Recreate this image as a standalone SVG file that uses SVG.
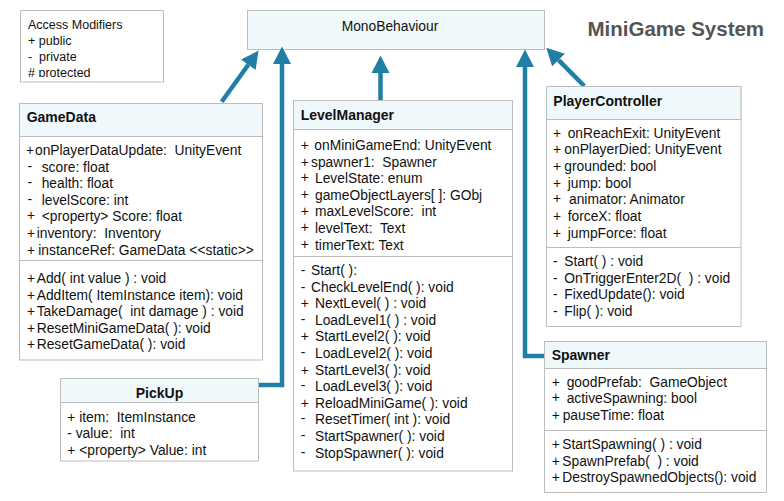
<svg xmlns="http://www.w3.org/2000/svg" width="784" height="501" viewBox="0 0 784 501">
<style>
text{font-family:"Liberation Sans",Arial,Helvetica,sans-serif;font-size:13.8px;fill:#111;white-space:pre}
.hd{font-weight:bold;font-size:14px}
.lg{font-size:12.5px}
.title{font-weight:bold;font-size:20.5px;fill:#555}
.box{fill:#fff;stroke:#bdbdbd;stroke-width:1}
.head{fill:#eff8fa;stroke:#bdbdbd;stroke-width:1}
.div{stroke:#bdbdbd;stroke-width:1;fill:none}
.con{stroke:#217ea5;stroke-width:4.5;fill:none;marker-end:url(#tri)}
</style>
<defs>
<marker id="tri" markerUnits="userSpaceOnUse" markerWidth="18" markerHeight="20" refX="0" refY="9" orient="auto" viewBox="0 0 18 18">
<path d="M0,0 L17.5,9 L0,18 z" fill="#217ea5"/>
</marker>
<clipPath id="lgclip"><rect x="20" y="10" width="144" height="67"/></clipPath>
</defs>
<rect width="784" height="501" fill="#fff"/>

<g id="legend">
<rect class="box" x="20.5" y="10.5" width="143" height="71.5"/>
<g clip-path="url(#lgclip)">
<text class="lg" x="28" y="29">Access Modifiers</text>
<text class="lg" x="28" y="45">+ public</text>
<text class="lg" x="28" y="61">-  private</text>
<text class="lg" x="28" y="76.5"># protected</text>
</g>
</g>

<text class="title" x="587.5" y="35.5">MiniGame System</text>

<g id="MonoBehaviour">
<rect class="head" x="247.5" y="10.5" width="297" height="39"/>
<text x="390" y="30.5" text-anchor="middle">MonoBehaviour</text>
</g>

<g id="connectors">
<path class="con" d="M221.7,101.7 L248.3,64.8"/>
<path class="con" d="M258.5,385 L282,385 L282,64"/>
<path class="con" d="M380.5,101 L380.5,73"/>
<path class="con" d="M544,356 L525,356 L525,67"/>
<path class="con" d="M584.3,86 L558.6,60.1"/>
</g>

<g id="GameData">
<rect class="box" x="19.5" y="103.5" width="243" height="256.5"/>
<rect class="head" x="19.5" y="103.5" width="243" height="33"/>
<text class="hd" x="26.7" y="122.3">GameData</text>
<line class="div" x1="19.5" y1="260.5" x2="262.5" y2="260.5"/>
<text y="155"><tspan x="26">+</tspan><tspan x="35">onPlayerDataUpdate:  UnityEvent</tspan></text>
<text y="171.6"><tspan x="27.5" dy="-1">-</tspan><tspan x="41.7" dy="1">score: float</tspan></text>
<text y="188.2"><tspan x="27.5" dy="-1">-</tspan><tspan x="41.7" dy="1">health: float</tspan></text>
<text y="204.8"><tspan x="27.5" dy="-1">-</tspan><tspan x="41.7" dy="1">levelScore: int</tspan></text>
<text y="221.4"><tspan x="27" dy="-1">+</tspan><tspan x="41.7" dy="1">&lt;property&gt; Score: float</tspan></text>
<text y="238"><tspan x="27">+</tspan><tspan x="36.7">inventory:  Inventory</tspan></text>
<text y="254.6"><tspan x="27">+</tspan><tspan x="38.3">instanceRef: GameData &lt;&lt;static&gt;&gt;</tspan></text>
<text y="283"><tspan x="27">+</tspan><tspan x="36.7">Add( int value ) : void</tspan></text>
<text y="299.6"><tspan x="27">+</tspan><tspan x="36.7">AddItem( ItemInstance item): void</tspan></text>
<text y="316.2"><tspan x="27">+</tspan><tspan x="36.7">TakeDamage(  int damage ) : void</tspan></text>
<text y="332.8"><tspan x="27">+</tspan><tspan x="36.7">ResetMiniGameData( ): void</tspan></text>
<text y="349.4"><tspan x="27">+</tspan><tspan x="36.7">ResetGameData( ): void</tspan></text>
</g>

<g id="LevelManager">
<rect class="box" x="293.5" y="100.5" width="219" height="370.5"/>
<rect class="head" x="293.5" y="100.5" width="219" height="29"/>
<text class="hd" x="300.7" y="120">LevelManager</text>
<line class="div" x1="293.5" y1="256.5" x2="512.5" y2="256.5"/>
<text y="150"><tspan x="300.7">+</tspan><tspan x="314.3">onMiniGameEnd: UnityEvent</tspan></text>
<text y="166.6"><tspan x="300.7">+</tspan><tspan x="311">spawner1:  Spawner</tspan></text>
<text y="183.2"><tspan x="300.7" dy="-1">+</tspan><tspan x="315" dy="1">LevelState: enum</tspan></text>
<text y="199.8"><tspan x="300.7" dy="-1">+</tspan><tspan x="315" dy="1">gameObjectLayers[ ]: GObj</tspan></text>
<text y="216.4"><tspan x="300.7">+</tspan><tspan x="315">maxLevelScore:  int</tspan></text>
<text y="233"><tspan x="300.7" dy="-1">+</tspan><tspan x="315" dy="1">levelText:  Text</tspan></text>
<text y="249.6"><tspan x="300.7" dy="-1">+</tspan><tspan x="315" dy="1">timerText: Text</tspan></text>
<text y="275"><tspan x="300.7">-</tspan><tspan x="311">Start( ):</tspan></text>
<text y="291.6"><tspan x="300.7">-</tspan><tspan x="311">CheckLevelEnd( ): void</tspan></text>
<text y="308.2"><tspan x="300.7">+</tspan><tspan x="315">NextLevel( ) : void</tspan></text>
<text y="324.8"><tspan x="300.7" dy="-1">-</tspan><tspan x="315" dy="1">LoadLevel1( ) : void</tspan></text>
<text y="341.4"><tspan x="300.7">+</tspan><tspan x="315">StartLevel2( ): void</tspan></text>
<text y="358"><tspan x="300.7" dy="-1">-</tspan><tspan x="315" dy="1">LoadLevel2( ): void</tspan></text>
<text y="374.6"><tspan x="300.7">+</tspan><tspan x="315">StartLevel3( ): void</tspan></text>
<text y="391.2"><tspan x="300.7" dy="-1">-</tspan><tspan x="315" dy="1">LoadLevel3( ): void</tspan></text>
<text y="407.8"><tspan x="300.7">+</tspan><tspan x="315">ReloadMiniGame( ): void</tspan></text>
<text y="424.4"><tspan x="300.7" dy="-1">-</tspan><tspan x="315" dy="1">ResetTimer( int ): void</tspan></text>
<text y="441"><tspan x="300.7" dy="-1">-</tspan><tspan x="315" dy="1">StartSpawner( ): void</tspan></text>
<text y="457.6"><tspan x="300.7" dy="-1">-</tspan><tspan x="315" dy="1">StopSpawner( ): void</tspan></text>
</g>

<g id="PlayerController">
<rect class="box" x="546.5" y="86.5" width="194.5" height="240"/>
<rect class="head" x="546.5" y="86.5" width="194.5" height="33"/>
<text class="hd" x="553.3" y="105.7">PlayerController</text>
<line class="div" x1="546.5" y1="247.5" x2="741" y2="247.5"/>
<text y="137.7"><tspan x="553">+</tspan><tspan x="567.7">onReachExit: UnityEvent</tspan></text>
<text y="154.4"><tspan x="553">+</tspan><tspan x="564.3">onPlayerDied: UnityEvent</tspan></text>
<text y="171"><tspan x="553">+</tspan><tspan x="564.3">grounded: bool</tspan></text>
<text y="187.7"><tspan x="553">+</tspan><tspan x="567.7">jump: bool</tspan></text>
<text y="204.4"><tspan x="553" dy="-1">+</tspan><tspan x="569" dy="1">animator: Animator</tspan></text>
<text y="221"><tspan x="553">+</tspan><tspan x="567.7">forceX: float</tspan></text>
<text y="237.7"><tspan x="553">+</tspan><tspan x="567.7">jumpForce: float</tspan></text>
<text y="266"><tspan x="553">-</tspan><tspan x="564.3">Start( ) : void</tspan></text>
<text y="282.7"><tspan x="553">-</tspan><tspan x="564.3">OnTriggerEnter2D(  ) : void</tspan></text>
<text y="299.3"><tspan x="553">-</tspan><tspan x="564.3">FixedUpdate(): void</tspan></text>
<text y="316"><tspan x="553">-</tspan><tspan x="564.3">Flip( ): void</tspan></text>
</g>

<g id="Spawner">
<rect class="box" x="544.5" y="341.5" width="222" height="151"/>
<rect class="head" x="544.5" y="341.5" width="222" height="27"/>
<text class="hd" x="551.7" y="360">Spawner</text>
<line class="div" x1="544.5" y1="430.5" x2="766.5" y2="430.5"/>
<text y="386.7"><tspan x="551.7">+</tspan><tspan x="566.7">goodPrefab:  GameObject</tspan></text>
<text y="403.3"><tspan x="551.7" dy="-1">+</tspan><tspan x="566.7" dy="1">activeSpawning: bool</tspan></text>
<text y="420"><tspan x="551.7">+</tspan><tspan x="562.7">pauseTime: float</tspan></text>
<text y="449"><tspan x="551.7">+</tspan><tspan x="562.3">StartSpawning( ) : void</tspan></text>
<text y="465.7"><tspan x="551.7">+</tspan><tspan x="562.3">SpawnPrefab(  ) : void</tspan></text>
<text y="482.3"><tspan x="551.7">+</tspan><tspan x="562.3">DestroySpawnedObjects(): void</tspan></text>
</g>

<g id="PickUp">
<rect class="box" x="60.5" y="378.5" width="198" height="82.5"/>
<rect class="head" x="60.5" y="378.5" width="198" height="24"/>
<text class="hd" x="159.5" y="397.5" text-anchor="middle">PickUp</text>
<text x="67.3" y="421.7">+ item:  ItemInstance</text>
<text x="67.3" y="438.3">- value:  int</text>
<text x="67.3" y="455">+ &lt;property&gt; Value: int</text>
</g>
</svg>
